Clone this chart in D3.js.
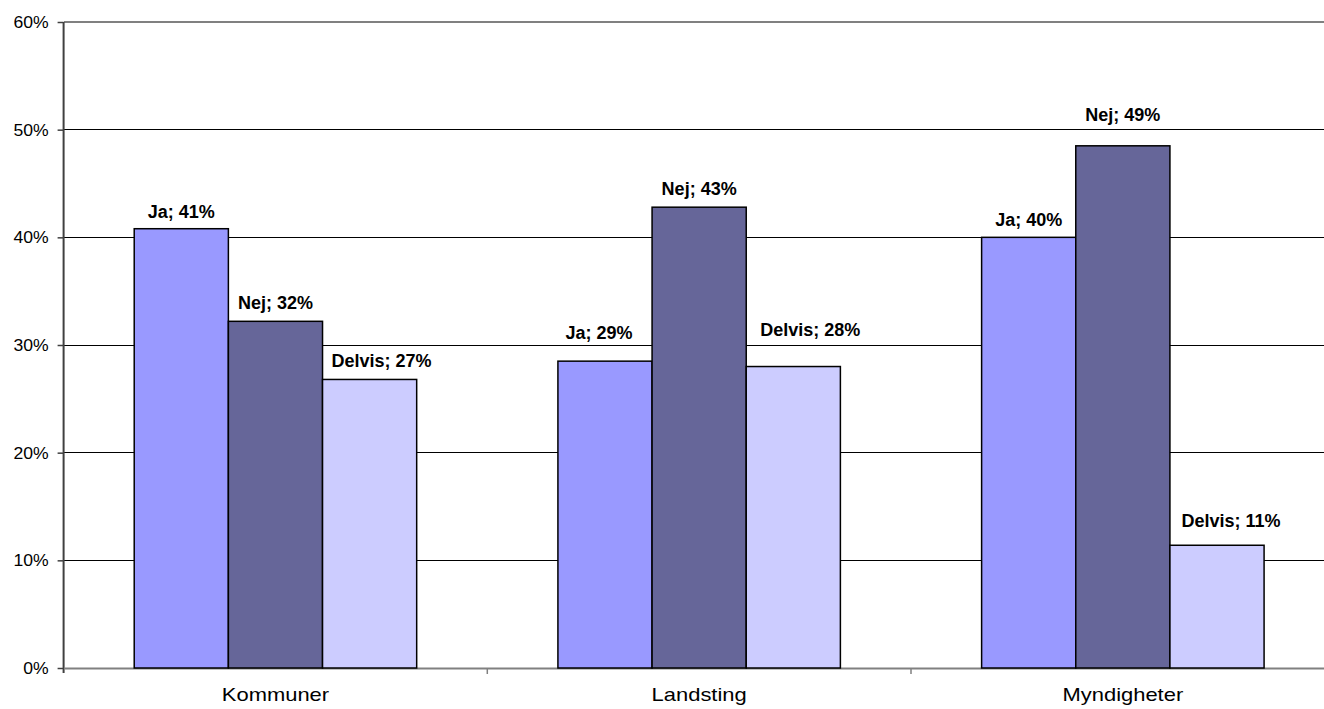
<!DOCTYPE html>
<html><head><meta charset="utf-8">
<script src="https://cdn.jsdelivr.net/npm/d3@7"></script>
<style>html,body{margin:0;padding:0;background:#fff;overflow:hidden}</style>
</head><body><svg id="c" width="1324" height="709"></svg>
<script>
// ---- data ----
const categories = ["Kommuner", "Landsting", "Myndigheter"];
const seriesNames = ["Ja", "Nej", "Delvis"];
const ja = [40.8, 28.5, 40.0];
const nej = [32.2, 42.8, 48.5];
const delvis = [26.8, 28.0, 11.4];
const yTicks = [0, 10, 20, 30, 40, 50, 60];
const seriesValues = [ja, nej, delvis];
const colors = ["#9999FF", "#666699", "#CCCCFF"];

// ---- layout (label nudges: [dx, gap above bar]) ----
const labelNudge = [
  [[0, 11], [0, 12], [12, 12]],
  [[-6, 22], [0, 12], [17, 31]],
  [[0, 11], [0, 25], [14, 18]]
];
const plotLeft = 63.6, plotRight = 1334.7, plotTop = 22, plotBottom = 668;

const svg = d3.select("#c");
const x = d3.scaleBand().domain(categories).range([plotLeft, plotRight]).paddingInner(0).paddingOuter(0);
const catW = x.bandwidth();
const barW = catW / 4.5;
const x1 = d3.scaleBand().domain(seriesNames).range([0, barW * 3]);
const groupOff = (catW - barW * 3) / 2;
const y = d3.scaleLinear().domain([0, 60]).range([plotBottom, plotTop]);

// gridlines
svg.append("g").selectAll("line").data(yTicks.filter(t => t > 0)).join("line")
  .attr("x1", plotLeft).attr("x2", 1324)
  .attr("y1", d => y(d)).attr("y2", d => y(d))
  .attr("stroke", d => d === 60 ? "#808080" : "#000")
  .attr("stroke-width", d => d === 60 ? 2 : 1)
  .attr("shape-rendering", "crispEdges");

// y axis
const yAxis = d3.axisLeft(y).tickValues(yTicks).tickFormat(d => d + "%").tickSize(6).tickPadding(9);
const gy = svg.append("g").attr("transform", `translate(${plotLeft},0)`).call(yAxis);
gy.select(".domain").attr("stroke", "#404040").attr("stroke-width", 2).attr("d", `M0,${plotTop}V${plotBottom + 5}`);
gy.selectAll(".tick line").attr("stroke", "#404040").attr("stroke-width", 1.5);
gy.selectAll(".tick text").attr("font-family", "Liberation Sans, Arial, sans-serif")
  .attr("font-size", 16).attr("fill", "#000")
  .attr("transform", "scale(1.1,1)").attr("x", -15 / 1.1).attr("dy", "0.35em");

// x axis
const xAxis = d3.axisBottom(x).tickSize(0).tickPadding(0).tickFormat("");
const gx = svg.append("g").attr("transform", `translate(0,${plotBottom})`).call(xAxis);
gx.select(".domain").attr("stroke", "#808080").attr("stroke-width", 2);
gx.selectAll(".tick").remove();
gx.selectAll("line.sep").data(categories.slice(1)).join("line").attr("class", "sep")
  .attr("x1", d => x(d)).attr("x2", d => x(d)).attr("y1", 0).attr("y2", 6)
  .attr("stroke", "#808080").attr("stroke-width", 1.5);

// bars
const groups = svg.append("g").selectAll("g").data(categories).join("g")
  .attr("transform", d => `translate(${x(d) + groupOff},0)`);
groups.selectAll("rect").data((c, ci) => seriesNames.map((s, si) => ({ s, si, ci, v: seriesValues[si][ci] })))
  .join("rect")
  .attr("x", d => x1(d.s)).attr("width", x1.bandwidth())
  .attr("y", d => y(d.v)).attr("height", d => y(0) - y(d.v))
  .attr("fill", d => colors[d.si]).attr("stroke", "#000").attr("stroke-width", 1.5);

// data labels
groups.selectAll("text").data((c, ci) => seriesNames.map((s, si) => ({ s, si, ci, v: seriesValues[si][ci] })))
  .join("text")
  .attr("x", d => x1(d.s) + x1.bandwidth() / 2 + labelNudge[d.ci][d.si][0])
  .attr("y", d => y(d.v) - labelNudge[d.ci][d.si][1])
  .attr("text-anchor", "middle")
  .attr("font-family", "Liberation Sans, Arial, sans-serif")
  .attr("font-weight", "bold").attr("font-size", 18).attr("fill", "#000")
  .text(d => `${d.s}; ${Math.round(d.v)}%`);

// category labels
svg.append("g").selectAll("text").data(categories).join("text")
  .attr("transform", d => `translate(${x(d) + catW / 2},701) scale(1.22,1)`)
  .attr("text-anchor", "middle")
  .attr("font-family", "Liberation Sans, Arial, sans-serif")
  .attr("font-size", 18).attr("fill", "#000")
  .text(d => d);
</script></body></html>
